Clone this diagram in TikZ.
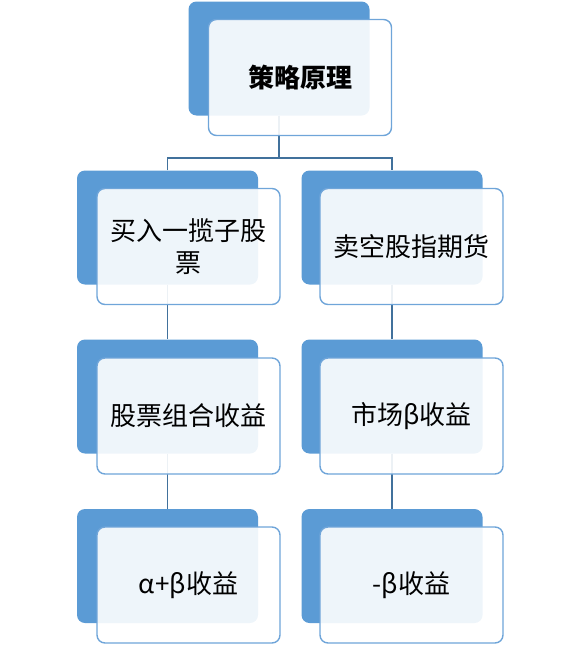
\documentclass[tikz,border=0pt]{standalone}
\usepackage{fontspec}
\setmainfont{Noto Sans CJK SC}
\usetikzlibrary{positioning}
\definecolor{backblue}{HTML}{5B9BD5}
\definecolor{edgeblue}{HTML}{6FA5D9}
\definecolor{linkblue}{HTML}{41719C}
\pgfdeclarelayer{bg}
\pgfsetlayers{bg,main}
\tikzset{
  backbox/.style={draw=none, fill=backblue, rounded corners=8pt, minimum width=181pt, minimum height=114pt, inner sep=0pt},
  frontbox/.style={draw=edgeblue, line width=1.4pt, fill=white, fill opacity=0.9, text opacity=1, rounded corners=8pt, minimum width=183pt, minimum height=116pt, inner sep=0pt, align=center, font=\fontsize{26}{32.5}\selectfont},
  link/.style={draw=linkblue, line width=1.3pt}
}
\begin{document}
\begin{tikzpicture}[x=1pt,y=-1pt]
\useasboundingbox (0,0) rectangle (580,645);
% top
\node[backbox] (b1) at (279,58.5) {};
\node[frontbox, font=\fontsize{26}{32.5}\selectfont\bfseries] (f1) at (300,77.5) {策略原理};
% row 2
\node[backbox] (b2) at (167.5,227.5) {};
\node[frontbox] (f2) at (188.5,246.5) {买入一揽子股\\票};
\node[backbox] (b3) at (392,227.5) {};
\node[frontbox] (f3) at (411.5,246.5) {卖空股指期货};
% row 3
\node[backbox] (b4) at (167.5,396.5) {};
\node[frontbox] (f4) at (188.5,416) {股票组合收益};
\node[backbox] (b5) at (392,396.5) {};
\node[frontbox] (f5) at (411.5,416) {市场β收益};
% row 4
\node[backbox] (b6) at (167.5,566) {};
\node[frontbox] (f6) at (188.5,585) {α+β收益};
\node[backbox] (b7) at (392,566) {};
\node[frontbox] (f7) at (411.5,585) {-β收益};
\coordinate (j) at (279,158);
\begin{pgfonlayer}{bg}
\draw[link] (b1.south) -- (j);
\draw[link] (b2.north) |- (j) -| (b3.north);
\draw[link] (b2.south) -- (b4.north);
\draw[link] (b3.south) -- (b5.north);
\draw[link] (b4.south) -- (b6.north);
\draw[link] (b5.south) -- (b7.north);
\end{pgfonlayer}
\end{tikzpicture}
\end{document}
